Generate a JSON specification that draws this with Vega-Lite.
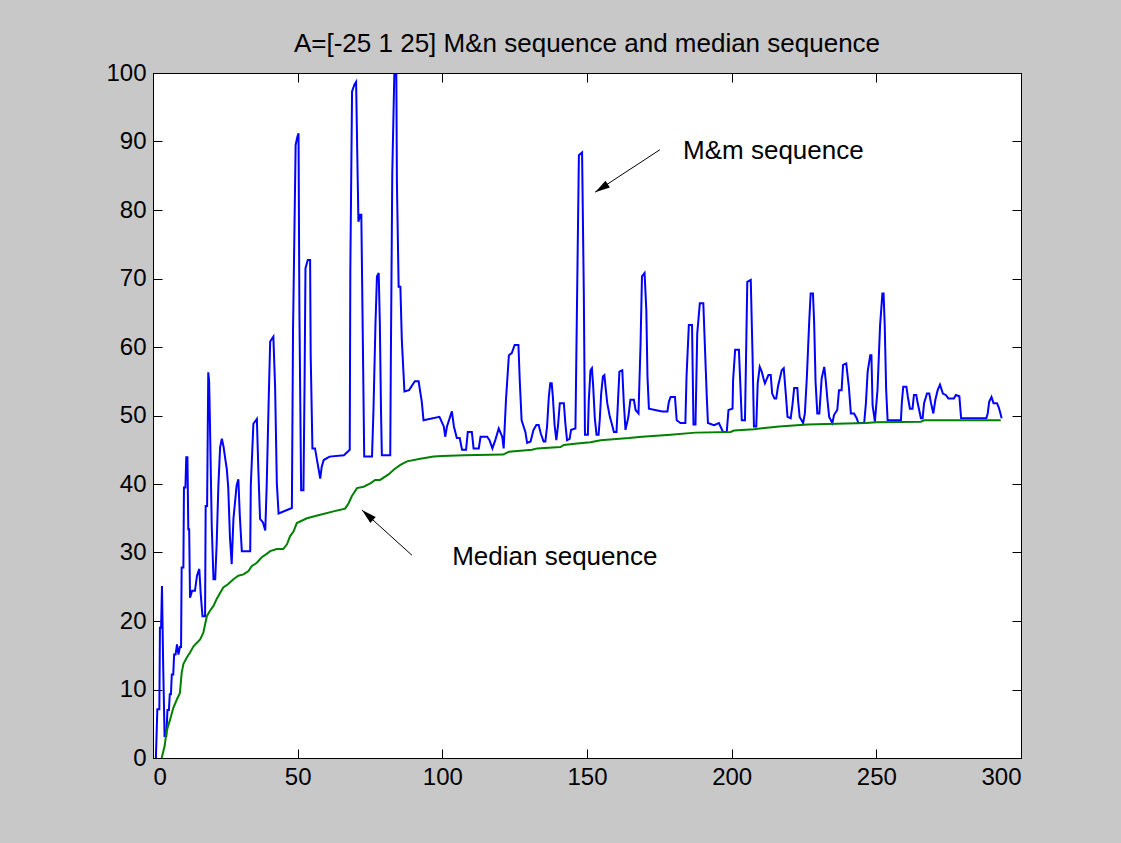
{
  "$schema": "https://vega.github.io/schema/vega-lite/v6.json",
  "autosize": {"type": "none"},
  "padding": {"left": 153, "top": 73, "right": 100, "bottom": 85},
  "width": 868,
  "height": 685,
  "background": "#c8c8c8",
  "title": {"text": "A=[-25 1 25] M&n sequence and median sequence", "font": "Liberation Sans", "fontSize": 26, "fontWeight": "normal", "color": "black", "offset": 4},
  "config": {
    "view": {"fill": "white", "stroke": "black", "strokeWidth": 1},
    "axis": {"grid": false, "title": null, "domainColor": "black", "tickColor": "black", "labelColor": "black", "labelFont": "Liberation Sans", "labelFontSize": 24, "tickSize": -9, "labelPadding": 16, "domainWidth": 1, "tickWidth": 1}
  },
  "datasets": {
    "mm": [
      {"x":1.0,"v":0},{"x":1.5,"v":7.1},{"x":2.2,"v":7.1},{"x":2.4,"v":19},{"x":2.8,"v":19},{"x":3.1,"v":25.1},{"x":3.5,"v":13.9},{"x":4.0,"v":3.2},{"x":4.6,"v":3.2},{"x":5.0,"v":7},{"x":5.5,"v":7},{"x":5.8,"v":9.3},{"x":6.2,"v":9.3},{"x":6.5,"v":12.2},{"x":7.0,"v":12.2},{"x":7.3,"v":15.1},{"x":7.8,"v":15.1},{"x":8.3,"v":16.6},{"x":8.8,"v":15.1},{"x":9.3,"v":16.2},{"x":9.7,"v":16.2},{"x":9.9,"v":27.8},{"x":10.5,"v":27.8},{"x":10.7,"v":39.5},{"x":11.2,"v":39.5},{"x":11.5,"v":43.9},{"x":11.9,"v":43.9},{"x":12.2,"v":33.4},{"x":12.5,"v":33.4},{"x":12.8,"v":23.4},{"x":13.5,"v":24.4},{"x":14.5,"v":24.4},{"x":15.2,"v":26.6},{"x":16.0,"v":27.6},{"x":16.5,"v":23.9},{"x":17.1,"v":20.7},{"x":18.0,"v":20.7},{"x":18.2,"v":36.8},{"x":18.7,"v":36.8},{"x":19.1,"v":56.3},{"x":19.4,"v":55},{"x":19.7,"v":48.5},{"x":20.3,"v":33.9},{"x":20.9,"v":26.1},{"x":21.5,"v":26.1},{"x":22.0,"v":31.2},{"x":22.6,"v":39.8},{"x":23.2,"v":45.4},{"x":23.8,"v":46.6},{"x":24.4,"v":45.4},{"x":25.0,"v":43.6},{"x":25.5,"v":42.2},{"x":26.0,"v":39.5},{"x":26.6,"v":32.2},{"x":27.2,"v":28.3},{"x":27.8,"v":34.9},{"x":28.9,"v":39.8},{"x":29.5,"v":40.7},{"x":30.0,"v":35.4},{"x":30.7,"v":30.2},{"x":33.6,"v":30.2},{"x":33.8,"v":39.8},{"x":34.7,"v":48.8},{"x":35.9,"v":49.5},{"x":36.4,"v":42.2},{"x":37.0,"v":34.9},{"x":38.0,"v":34.4},{"x":38.8,"v":33.2},{"x":39.3,"v":39.8},{"x":40.0,"v":52.5},{"x":40.5,"v":60.8},{"x":41.6,"v":61.5},{"x":42.2,"v":54.2},{"x":42.8,"v":40.1},{"x":43.4,"v":35.7},{"x":48.0,"v":36.5},{"x":48.4,"v":62.5},{"x":49.3,"v":89.5},{"x":49.9,"v":90.7},{"x":50.3,"v":91.2},{"x":50.6,"v":65.2},{"x":51.2,"v":39.1},{"x":52.0,"v":39.1},{"x":52.4,"v":55.4},{"x":52.7,"v":71.5},{"x":53.5,"v":72.7},{"x":54.3,"v":72.7},{"x":54.5,"v":58.8},{"x":55.1,"v":45.2},{"x":56.0,"v":45.2},{"x":56.6,"v":43.7},{"x":57.8,"v":40.8},{"x":58.3,"v":42.5},{"x":59.0,"v":43.5},{"x":61.0,"v":44},{"x":66.0,"v":44.2},{"x":68.0,"v":45},{"x":68.2,"v":71.2},{"x":68.8,"v":97.3},{"x":69.6,"v":98.3},{"x":70.2,"v":98.7},{"x":70.6,"v":88.3},{"x":71.0,"v":78.3},{"x":71.6,"v":79.3},{"x":72.0,"v":79.3},{"x":72.5,"v":61.8},{"x":73.0,"v":44},{"x":75.7,"v":44},{"x":76.2,"v":50.8},{"x":76.9,"v":63.5},{"x":77.4,"v":70.3},{"x":78.0,"v":70.8},{"x":78.4,"v":63.5},{"x":78.8,"v":50.8},{"x":79.1,"v":44.2},{"x":82.0,"v":44.2},{"x":82.2,"v":57.9},{"x":82.7,"v":85.4},{"x":83.4,"v":99.7},{"x":84.1,"v":99.7},{"x":84.3,"v":84.1},{"x":84.9,"v":68.8},{"x":85.5,"v":68.8},{"x":86.0,"v":61},{"x":86.9,"v":53.5},{"x":88.5,"v":53.7},{"x":90.5,"v":55},{"x":91.8,"v":55},{"x":92.9,"v":52},{"x":93.5,"v":49.3},{"x":99.0,"v":49.8},{"x":100.5,"v":48.4},{"x":101.0,"v":46.9},{"x":101.6,"v":48.4},{"x":103.3,"v":50.6},{"x":104.0,"v":48.4},{"x":105.0,"v":46.7},{"x":106.0,"v":46.7},{"x":106.8,"v":45},{"x":108.2,"v":45},{"x":108.8,"v":47.6},{"x":110.2,"v":47.6},{"x":110.8,"v":45.2},{"x":112.6,"v":45.2},{"x":113.2,"v":46.9},{"x":115.5,"v":46.9},{"x":116.3,"v":46.4},{"x":117.3,"v":45.2},{"x":118.3,"v":46.4},{"x":119.5,"v":48.1},{"x":120.7,"v":46.9},{"x":121.2,"v":45.2},{"x":122.0,"v":52.3},{"x":123.0,"v":58.8},{"x":124.0,"v":59.1},{"x":125.0,"v":60.3},{"x":126.3,"v":60.3},{"x":126.8,"v":54.7},{"x":127.4,"v":49.3},{"x":128.7,"v":47.6},{"x":129.3,"v":46},{"x":130.5,"v":46.2},{"x":131.5,"v":47.9},{"x":132.5,"v":48.6},{"x":133.3,"v":48.6},{"x":134.0,"v":47.4},{"x":135.0,"v":46.2},{"x":135.6,"v":46.2},{"x":136.2,"v":48.4},{"x":136.8,"v":52.7},{"x":137.3,"v":54.7},{"x":137.8,"v":54.7},{"x":138.2,"v":52.7},{"x":138.8,"v":48.6},{"x":139.4,"v":46.4},{"x":140.0,"v":48.6},{"x":140.6,"v":51.8},{"x":142.0,"v":51.8},{"x":142.5,"v":48.9},{"x":143.1,"v":46.4},{"x":144.0,"v":46.6},{"x":144.5,"v":47.9},{"x":146.0,"v":48.1},{"x":146.6,"v":68.1},{"x":147.2,"v":88},{"x":148.3,"v":88.4},{"x":148.9,"v":67.8},{"x":149.3,"v":47.2},{"x":150.3,"v":47.2},{"x":150.6,"v":52},{"x":151.2,"v":56.6},{"x":151.7,"v":56.9},{"x":152.1,"v":54.5},{"x":152.7,"v":49.6},{"x":153.3,"v":47.2},{"x":154.0,"v":47.2},{"x":154.4,"v":49.3},{"x":154.9,"v":53.2},{"x":155.5,"v":55.7},{"x":156.0,"v":55.9},{"x":156.4,"v":54.2},{"x":157.0,"v":51.8},{"x":157.9,"v":49.8},{"x":158.5,"v":48.9},{"x":159.3,"v":47.6},{"x":160.2,"v":47.6},{"x":160.7,"v":52},{"x":161.2,"v":56.4},{"x":162.2,"v":56.6},{"x":162.7,"v":52},{"x":163.3,"v":47.9},{"x":164.3,"v":49.8},{"x":165.0,"v":52.3},{"x":166.2,"v":52.3},{"x":166.8,"v":50.8},{"x":167.8,"v":50.3},{"x":168.5,"v":60.3},{"x":169.0,"v":70.3},{"x":169.9,"v":70.8},{"x":170.5,"v":65.4},{"x":170.9,"v":55.7},{"x":171.4,"v":51},{"x":176.0,"v":50.6},{"x":177.8,"v":50.6},{"x":178.3,"v":52},{"x":178.9,"v":52.7},{"x":180.4,"v":52.7},{"x":181.0,"v":49.3},{"x":182.3,"v":48.9},{"x":184.0,"v":48.9},{"x":184.4,"v":55.7},{"x":185.2,"v":63.2},{"x":186.3,"v":63.2},{"x":186.8,"v":48.7},{"x":187.5,"v":48.7},{"x":188.1,"v":62},{"x":189.0,"v":66.4},{"x":190.2,"v":66.4},{"x":190.6,"v":61.8},{"x":191.4,"v":52.7},{"x":191.8,"v":48.9},{"x":193.9,"v":48.6},{"x":195.6,"v":48.9},{"x":197.0,"v":47.6},{"x":198.3,"v":47.6},{"x":198.9,"v":50.8},{"x":200.3,"v":51},{"x":200.5,"v":55.2},{"x":201.2,"v":59.6},{"x":202.5,"v":59.6},{"x":203.0,"v":54.5},{"x":203.5,"v":49.3},{"x":204.6,"v":49.3},{"x":205.0,"v":59.3},{"x":205.4,"v":69.5},{"x":206.6,"v":69.8},{"x":207.2,"v":59.1},{"x":207.7,"v":48.4},{"x":208.5,"v":48.4},{"x":209.0,"v":54.7},{"x":209.7,"v":57.1},{"x":210.4,"v":56.4},{"x":211.0,"v":55.4},{"x":211.5,"v":54.7},{"x":212.0,"v":55.2},{"x":212.7,"v":55.9},{"x":213.5,"v":55.9},{"x":214.0,"v":53.2},{"x":214.8,"v":52.5},{"x":215.4,"v":52.5},{"x":216.0,"v":54.2},{"x":217.3,"v":56.6},{"x":218.0,"v":56.9},{"x":218.7,"v":53.2},{"x":219.3,"v":49.8},{"x":220.4,"v":49.6},{"x":221.0,"v":51.5},{"x":221.6,"v":54},{"x":222.7,"v":54},{"x":223.0,"v":52},{"x":223.5,"v":49.8},{"x":224.7,"v":48.9},{"x":225.3,"v":50.3},{"x":226.0,"v":55.7},{"x":226.8,"v":63.7},{"x":227.3,"v":67.8},{"x":228.1,"v":67.8},{"x":228.5,"v":63.7},{"x":229.0,"v":54.9},{"x":229.6,"v":50.3},{"x":230.3,"v":50.3},{"x":231.1,"v":55.4},{"x":232.0,"v":57.1},{"x":232.5,"v":55.2},{"x":233.1,"v":52.3},{"x":233.7,"v":49.8},{"x":234.8,"v":48.9},{"x":235.4,"v":50.1},{"x":236.5,"v":50.8},{"x":237.1,"v":53.7},{"x":238.0,"v":53.7},{"x":238.5,"v":57.4},{"x":239.6,"v":57.6},{"x":240.5,"v":54.2},{"x":241.2,"v":50.3},{"x":242.3,"v":50.3},{"x":243.2,"v":49.6},{"x":243.8,"v":48.9},{"x":245.8,"v":48.9},{"x":246.4,"v":51.8},{"x":247.0,"v":56.4},{"x":247.9,"v":58.8},{"x":248.3,"v":58.8},{"x":248.7,"v":51.5},{"x":249.5,"v":49.1},{"x":250.4,"v":53.7},{"x":251.3,"v":63.2},{"x":252.1,"v":67.8},{"x":252.5,"v":67.8},{"x":252.9,"v":63.2},{"x":253.4,"v":53.7},{"x":253.9,"v":49.3},{"x":258.5,"v":49.3},{"x":258.8,"v":51.8},{"x":259.3,"v":54.2},{"x":260.4,"v":54.2},{"x":260.9,"v":52.7},{"x":261.6,"v":51},{"x":262.5,"v":51},{"x":263.0,"v":53},{"x":263.8,"v":53},{"x":264.2,"v":52},{"x":264.8,"v":50.8},{"x":265.4,"v":49.6},{"x":266.0,"v":49.6},{"x":266.5,"v":51.8},{"x":267.5,"v":53.2},{"x":268.3,"v":53.2},{"x":268.9,"v":51.8},{"x":269.7,"v":50.3},{"x":270.4,"v":52.3},{"x":271.2,"v":53.7},{"x":272.0,"v":54.5},{"x":273.0,"v":53.2},{"x":274.0,"v":53},{"x":274.9,"v":52.5},{"x":276.8,"v":52.5},{"x":277.5,"v":53},{"x":278.7,"v":52.8},{"x":279.3,"v":49.6},{"x":288.0,"v":49.6},{"x":288.5,"v":50.3},{"x":289.0,"v":52},{"x":289.8,"v":52.7},{"x":290.5,"v":51.8},{"x":291.7,"v":51.8},{"x":292.3,"v":51.2},{"x":292.9,"v":50.3},{"x":293.3,"v":49.6}
    ],
    "med": [
      {"x":3.0,"v":0},{"x":4.0,"v":1.7},{"x":4.7,"v":3.9},{"x":5.9,"v":5.6},{"x":7.0,"v":7.3},{"x":8.2,"v":8.5},{"x":9.3,"v":9.5},{"x":9.9,"v":12.4},{"x":10.5,"v":13.7},{"x":11.6,"v":14.6},{"x":12.8,"v":15.4},{"x":14.0,"v":16.3},{"x":15.1,"v":16.8},{"x":16.3,"v":17.3},{"x":17.4,"v":18.3},{"x":18.0,"v":19.5},{"x":18.6,"v":20.7},{"x":19.7,"v":21.5},{"x":20.9,"v":22.2},{"x":22.0,"v":23.2},{"x":23.2,"v":24.1},{"x":24.3,"v":24.9},{"x":26.0,"v":25.4},{"x":27.8,"v":26.1},{"x":29.5,"v":26.6},{"x":31.3,"v":26.8},{"x":33.0,"v":27.3},{"x":34.1,"v":28},{"x":35.9,"v":28.5},{"x":37.6,"v":29.3},{"x":39.3,"v":29.8},{"x":40.5,"v":30.2},{"x":42.8,"v":30.5},{"x":45.0,"v":30.5},{"x":46.3,"v":31.2},{"x":47.4,"v":32.4},{"x":48.6,"v":33.1},{"x":49.7,"v":34.3},{"x":53.2,"v":35},{"x":57.8,"v":35.5},{"x":62.4,"v":36},{"x":66.4,"v":36.4},{"x":67.6,"v":37.2},{"x":68.7,"v":38.2},{"x":70.5,"v":39.4},{"x":72.8,"v":39.6},{"x":75.1,"v":40.1},{"x":76.8,"v":40.6},{"x":78.5,"v":40.6},{"x":81.4,"v":41.4},{"x":83.5,"v":42.2},{"x":85.5,"v":42.8},{"x":87.8,"v":43.3},{"x":92.4,"v":43.7},{"x":97.0,"v":44},{"x":100,"v":44.1},{"x":107.4,"v":44.2},{"x":121.0,"v":44.3},{"x":123.0,"v":44.7},{"x":131.0,"v":45},{"x":132.8,"v":45.2},{"x":140.8,"v":45.4},{"x":142.0,"v":45.7},{"x":146.6,"v":45.9},{"x":151.2,"v":46.1},{"x":154.7,"v":46.4},{"x":164.5,"v":46.7},{"x":169.0,"v":46.9},{"x":178.9,"v":47.2},{"x":187.5,"v":47.5},{"x":199.6,"v":47.6},{"x":200.8,"v":47.8},{"x":207.7,"v":48},{"x":216.4,"v":48.4},{"x":226.2,"v":48.7},{"x":246.4,"v":48.9},{"x":249.9,"v":49},{"x":265.4,"v":49.1},{"x":266.5,"v":49.3},{"x":293.0,"v":49.3}
    ],
    "labels": [
      {"x": 183.2, "v": 88.6, "text": "M&m sequence"},
      {"x": 103.4, "v": 29.3, "text": "Median sequence"}
    ],
    "arrows": [
      {"x": 175.2, "v": 88.8, "x2": 152.8, "v2": 82.6, "angle": 237},
      {"x": 89.5, "v": 29.6, "x2": 72.2, "v2": 36.2, "angle": 312}
    ]
  },
  "resolve": {"axis": {"x": "independent", "y": "independent"}},
  "layer": [
    {
      "data": {"name": "mm"},
      "mark": {"type": "line", "color": "#0000ff", "strokeWidth": 2, "interpolate": "linear"},
      "encoding": {
        "x": {"field": "x", "type": "quantitative", "scale": {"domain": [0, 300], "nice": false, "zero": false}, "axis": {"orient": "bottom", "values": [0, 50, 100, 150, 200, 250, 300]}},
        "y": {"field": "v", "type": "quantitative", "scale": {"domain": [0, 100], "nice": false}, "axis": {"orient": "left", "values": [0, 10, 20, 30, 40, 50, 60, 70, 80, 90, 100]}}
      }
    },
    {
      "data": {"name": "med"},
      "mark": {"type": "line", "color": "#008000", "strokeWidth": 2},
      "encoding": {
        "x": {"field": "x", "type": "quantitative", "axis": {"orient": "top", "labels": false, "values": [0, 50, 100, 150, 200, 250, 300]}},
        "y": {"field": "v", "type": "quantitative", "axis": {"orient": "right", "labels": false, "values": [0, 10, 20, 30, 40, 50, 60, 70, 80, 90, 100]}}
      }
    },
    {
      "data": {"name": "arrows"},
      "mark": {"type": "rule", "color": "black", "strokeWidth": 1},
      "encoding": {
        "x": {"field": "x", "type": "quantitative", "axis": null},
        "y": {"field": "v", "type": "quantitative", "axis": null},
        "x2": {"field": "x2"},
        "y2": {"field": "v2"}
      }
    },
    {
      "data": {"name": "arrows"},
      "mark": {"type": "point", "shape": "M0,0L0.4,1.5L-0.4,1.5Z", "filled": true, "color": "black", "opacity": 1, "size": 400},
      "encoding": {
        "x": {"field": "x2", "type": "quantitative", "axis": null},
        "y": {"field": "v2", "type": "quantitative", "axis": null},
        "angle": {"field": "angle", "type": "quantitative", "scale": null}
      }
    },
    {
      "data": {"name": "labels"},
      "mark": {"type": "text", "align": "left", "baseline": "middle", "font": "Liberation Sans", "fontSize": 26, "color": "black"},
      "encoding": {
        "x": {"field": "x", "type": "quantitative", "axis": null},
        "y": {"field": "v", "type": "quantitative", "axis": null},
        "text": {"field": "text"}
      }
    }
  ]
}
